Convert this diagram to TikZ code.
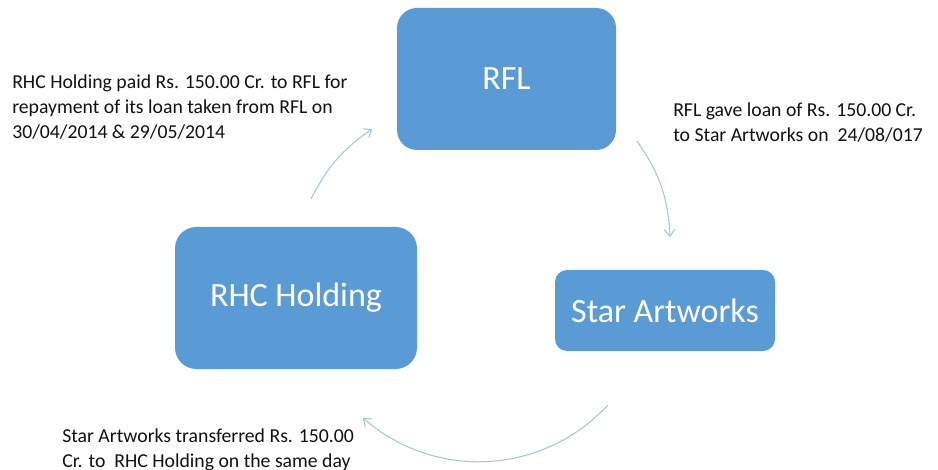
\documentclass[tikz,border=0pt]{standalone}
\usepackage{fontspec}
\setmainfont{Carlito}
\usetikzlibrary{arrows.meta}
\definecolor{boxblue}{HTML}{5B9BD5}
\definecolor{arrowblue}{HTML}{9DC3E6}
\definecolor{ink}{HTML}{111111}
\begin{document}
\begin{tikzpicture}[x=0.75pt,y=-0.75pt,
  label/.style={text=white,font=\fontsize{25.5}{30}\selectfont},
  note/.style={inner sep=0pt,anchor=base west,align=left,text=ink,font=\fontsize{14.8}{18.75}\selectfont},
  flow/.style={draw=arrowblue,line width=0.75pt,-{Straight Barb[length=5pt,width=8pt]}}]
\useasboundingbox (0,0) rectangle (938,470);
% boxes
\fill[boxblue,rounded corners=15pt] (397,8) rectangle (616,150);
\node[label] (rfl) at (506.5,79) {RFL};
\fill[boxblue,rounded corners=16pt] (175,227) rectangle (417,369);
\node[label] (rhc) at (296,298) {RHC Holding};
\fill[boxblue,rounded corners=9pt] (555,270) rectangle (775,351);
\node[label] (star) at (665,310.5) {Star Artworks};
% notes (anchored at the baseline of their last line)
\node[note] (n1) at (12,139) {RHC Holding paid Rs. 150.00 Cr. to RFL for\\repayment of its loan taken from RFL on\\30/04/2014 \& 29/05/2014};
\node[note] (n2) at (673,142) {RFL gave loan of Rs. 150.00 Cr.\\to Star Artworks on\ \ 24/08/017};
\node[note] (n3) at (62,467) {Star Artworks transferred Rs. 150.00\\Cr. to\ \ RHC Holding on the same day};
% arrow endpoints
\coordinate (a1s) at (311,199);
\coordinate (a1e) at (372,129);
\coordinate (a2s) at (637,141);
\coordinate (a2e) at (670,237);
\coordinate (a3s) at (608,405);
\coordinate (a3e) at (363,418);
\draw[flow] (a1s) to[bend left=14] (a1e);
\draw[flow] (a2s) to[bend left=16] (a2e);
\draw[flow] (a3s) to[bend left=44] (a3e);
\end{tikzpicture}
\end{document}
